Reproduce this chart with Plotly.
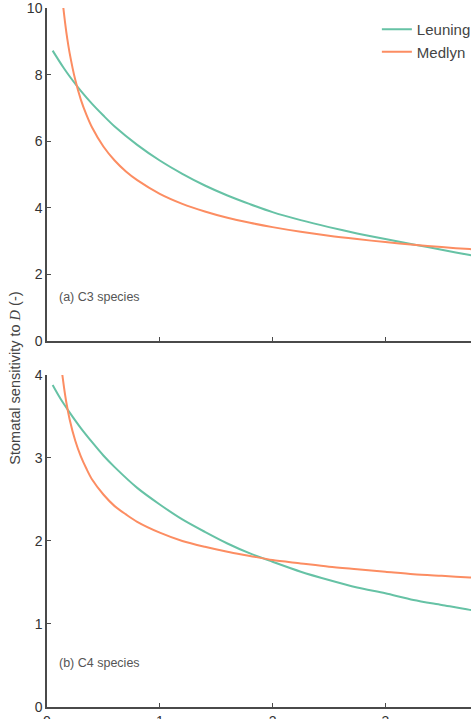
import plotly.graph_objects as go

# ---- data ----
x_leu = [0.05, 0.1, 0.15, 0.2, 0.3, 0.4, 0.5, 0.6, 0.8, 1.0, 1.2, 1.4, 1.6, 1.8,
         2.0, 2.25, 2.5, 2.75, 3.0, 3.25, 3.5, 3.75, 4.0]
c3_leuning = [8.72, 8.45, 8.19, 7.95, 7.51, 7.12, 6.77, 6.44, 5.89, 5.42, 5.02, 4.67,
              4.37, 4.11, 3.87, 3.63, 3.42, 3.23, 3.06, 2.90, 2.74, 2.58, 2.43]
c4_leuning = [3.88, 3.76, 3.65, 3.55, 3.36, 3.19, 3.03, 2.89, 2.64, 2.44, 2.26, 2.11,
              1.97, 1.85, 1.75, 1.63, 1.53, 1.44, 1.37, 1.29, 1.23, 1.17, 1.12]

x_med_c3 = [0.145, 0.16, 0.18, 0.2, 0.25, 0.3, 0.35, 0.4, 0.5, 0.6, 0.7, 0.8, 1.0,
            1.2, 1.4, 1.6, 1.8, 2.0, 2.25, 2.5, 2.75, 3.0, 3.25, 3.5, 3.75, 4.0]
c3_medlyn = [10.0, 9.57, 9.07, 8.66, 7.85, 7.25, 6.79, 6.41, 5.84, 5.42, 5.09, 4.83,
             4.42, 4.12, 3.89, 3.70, 3.55, 3.42, 3.28, 3.16, 3.06, 2.97, 2.89, 2.82,
             2.76, 2.71]

x_med_c4 = [0.136, 0.15, 0.17, 0.2, 0.25, 0.3, 0.35, 0.4, 0.5, 0.6, 0.7, 0.8, 1.0,
            1.2, 1.4, 1.6, 1.8, 2.0, 2.25, 2.5, 2.75, 3.0, 3.25, 3.5, 3.75, 4.0]
c4_medlyn = [4.00, 3.86, 3.68, 3.47, 3.21, 3.02, 2.87, 2.74, 2.56, 2.42, 2.32, 2.23,
             2.10, 2.00, 1.93, 1.87, 1.82, 1.77, 1.73, 1.69, 1.66, 1.63, 1.60, 1.58,
             1.56, 1.54]

x_ticks = [0, 1, 2, 3, 4]
y_ticks_c3 = [0, 2, 4, 6, 8, 10]
y_ticks_c4 = [0, 1, 2, 3, 4]

GREEN = "#66c2a5"
ORANGE = "#fc8d62"
FONT = "Liberation Sans, Arial, sans-serif"
AX = "#4a4a4a"

line_g = dict(color=GREEN, width=2, shape="spline", smoothing=0.8)
line_o = dict(color=ORANGE, width=2, shape="spline", smoothing=0.8)

fig = go.Figure()
fig.add_trace(go.Scatter(x=x_leu, y=c3_leuning, mode="lines", name="Leuning",
                         line=line_g, xaxis="x", yaxis="y"))
fig.add_trace(go.Scatter(x=x_med_c3, y=c3_medlyn, mode="lines", name="Medlyn",
                         line=line_o, xaxis="x", yaxis="y"))
fig.add_trace(go.Scatter(x=x_leu, y=c4_leuning, mode="lines", name="Leuning",
                         showlegend=False, line=line_g, xaxis="x2", yaxis="y2"))
fig.add_trace(go.Scatter(x=x_med_c4, y=c4_medlyn, mode="lines", name="Medlyn",
                         showlegend=False, line=line_o, xaxis="x2", yaxis="y2"))

axis_common = dict(showgrid=False, zeroline=False, showline=True, linecolor=AX,
                   linewidth=1.5, ticks="inside", ticklen=4, tickwidth=1.2,
                   tickcolor=AX, ticklabeloverflow="allow",
                   tickfont=dict(family=FONT, size=14, color="#333"))

fig.update_layout(
    width=471, height=719,
    margin=dict(l=47, r=0, t=8, b=12, autoexpand=False),
    paper_bgcolor="white", plot_bgcolor="white",
    font=dict(family=FONT, size=14, color="#333"),
    xaxis=dict(domain=[0, 1], range=[0, 3.76], anchor="y", tickvals=x_ticks,
               showticklabels=False, **axis_common),
    yaxis=dict(domain=[0.5236, 1], range=[0, 10], anchor="x", tickvals=y_ticks_c3,
               **axis_common),
    xaxis2=dict(domain=[0, 1], range=[0, 3.76], anchor="y2", tickvals=x_ticks,
                **axis_common),
    yaxis2=dict(domain=[0, 0.475], range=[0, 4], anchor="x2", tickvals=y_ticks_c4,
                **axis_common),
    legend=dict(x=0.778, y=0.993, xanchor="left", yanchor="top",
                font=dict(family=FONT, size=15, color="#444"),
                bgcolor="rgba(0,0,0,0)", tracegroupgap=0),
    showlegend=True,
)

fig.add_annotation(text="Stomatal sensitivity to <span style='font-family:Liberation Serif'><i>D</i></span> (-)",
                   xref="paper", yref="paper", x=-0.075, y=0.470,
                   xanchor="center", yanchor="middle", textangle=-90,
                   showarrow=False, font=dict(family=FONT, size=14.5, color="#444"))
fig.add_annotation(text="(a) C3 species", xref="paper", yref="paper",
                   x=0.023, y=(707 - 297) / 699, xanchor="left", yanchor="middle",
                   showarrow=False, font=dict(family=FONT, size=12.5, color="#555"))
fig.add_annotation(text="(b) C4 species", xref="paper", yref="paper",
                   x=0.023, y=(707 - 663) / 699, xanchor="left", yanchor="middle",
                   showarrow=False, font=dict(family=FONT, size=12.5, color="#555"))

fig.write_html("out.html")
